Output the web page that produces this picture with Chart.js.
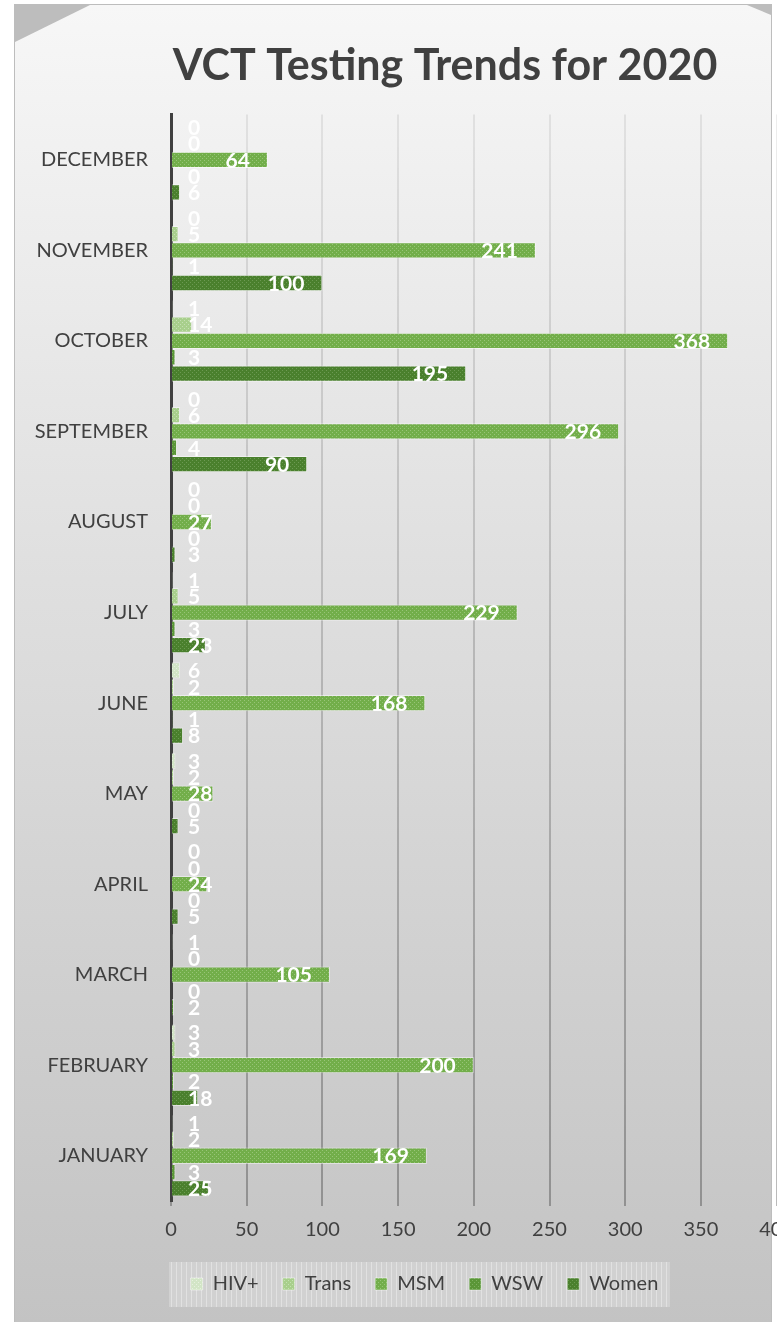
<!DOCTYPE html>
<html>
<head>
<meta charset="utf-8">
<script src="https://cdn.jsdelivr.net/npm/chart.js@4/dist/chart.umd.min.js"></script>
<style>
  html, body { margin: 0; padding: 0; background: #fff; width: 777px; height: 1322px; overflow: hidden; }
  .frame { position: absolute; left: 14px; top: 4px; width: 758px; height: 1320px; background: #bdbdbd; }
  .card { position: absolute; left: 1px; top: 1px; right: 1px; bottom: 0;
    background: linear-gradient(180deg, #f7f7f7 0%, #e6e6e6 30%, #d4d4d4 65%, #c3c3c3 100%);
    clip-path: polygon(75px 0, 732px 0, 756px 10px, 756px 100%, 0 100%, 0 37px); }
  .wrap { position: absolute; left: 0; top: 0; width: 806px; height: 1322px; }
</style>
</head>
<body>
<div class="frame"><div class="card"></div></div>
<div class="wrap"><canvas id="chart"></canvas></div>
<script>
const months = ['JANUARY', 'FEBRUARY', 'MARCH', 'APRIL', 'MAY', 'JUNE', 'JULY', 'AUGUST', 'SEPTEMBER', 'OCTOBER', 'NOVEMBER', 'DECEMBER'];
const hivPos = [1, 3, 1, 0, 3, 6, 1, 0, 0, 1, 0, 0];
const trans  = [2, 3, 0, 0, 2, 2, 5, 0, 6, 14, 5, 0];
const msm    = [169, 200, 105, 24, 28, 168, 229, 27, 296, 368, 241, 64];
const wsw    = [3, 2, 0, 0, 0, 1, 3, 0, 4, 3, 1, 0];
const women  = [25, 18, 2, 5, 5, 8, 23, 3, 90, 195, 100, 6];
const seriesNames = ['HIV+', 'Trans', 'MSM', 'WSW', 'Women'];
const xTicks = [0, 50, 100, 150, 200, 250, 300, 350, 400];

// small dotted texture like the excel fill
function dotted(base, dot) {
  const c = document.createElement('canvas');
  c.width = 4; c.height = 4;
  const g = c.getContext('2d');
  g.fillStyle = base; g.fillRect(0, 0, 4, 4);
  g.fillStyle = dot;
  g.fillRect(0, 0, 1, 1); g.fillRect(2, 2, 1, 1);
  return g.createPattern(c, 'repeat');
}

const fills = [
  dotted('#d2e5c6', '#e6f1df'),
  dotted('#a8cf8c', '#c6e0b4'),
  dotted('#72ae4a', '#97c577'),
  dotted('#5a9637', '#7eb060'),
  dotted('#4a802d', '#6c9a52')
];

let gridGrad = null;
function gridColor(context) {
  const chart = context.chart;
  const area = chart.chartArea;
  if (!area) return 'rgba(0,0,0,0.15)';
  if (!gridGrad) {
    gridGrad = chart.ctx.createLinearGradient(0, area.top, 0, area.bottom);
    gridGrad.addColorStop(0, 'rgba(0,0,0,0.07)');
    gridGrad.addColorStop(1, 'rgba(0,0,0,0.27)');
  }
  return gridGrad;
}

const placeBlocks = {
  id: 'placeBlocks',
  afterLayout(chart) {
    const t = chart.titleBlock;
    t.left = 100; t.right = 790;
    // legend items centred on x = 424, inside the grey box
    const lg = chart.legend;
    lg.left = 0; lg.right = 849; lg.top = 1250; lg.bottom = 1304;
  },
  beforeDraw(chart) {
    const ctx = chart.ctx;
    ctx.save();
    ctx.fillStyle = 'rgba(255,255,255,0.22)';
    ctx.fillRect(169, 1262, 501, 45);
    ctx.strokeStyle = 'rgba(255,255,255,0.35)';
    ctx.lineWidth = 1;
    ctx.beginPath();
    for (let x = 171; x < 670; x += 5) { ctx.moveTo(x + 0.5, 1262); ctx.lineTo(x + 0.5, 1307); }
    ctx.stroke();
    ctx.restore();
  }
};

const valueLabels = {
  id: 'valueLabels',
  afterDatasetsDraw(chart) {
    const {ctx, chartArea} = chart;
    ctx.save();
    ctx.font = 'bold 21px Lato';
    ctx.fillStyle = '#ffffff';
    ctx.textAlign = 'right';
    ctx.textBaseline = 'middle';
    chart.data.datasets.forEach((ds, i) => {
      chart.getDatasetMeta(i).data.forEach((bar, j) => {
        const txt = String(ds.data[j]);
        const w = ctx.measureText(txt).width;
        const x = Math.max(bar.x - 18, chartArea.left + 17 + w);
        ctx.fillText(txt, x, bar.y + 1);
      });
    });
    ctx.restore();
  }
};

const allSeries = [hivPos, trans, msm, wsw, women];

new Chart(document.getElementById('chart'), {
  type: 'bar',
  data: {
    labels: months,
    datasets: allSeries.map((vals, i) => ({
      label: seriesNames[i],
      data: vals,
      backgroundColor: fills[i],
      borderColor: 'rgba(255,255,255,0.45)',
      borderWidth: 1,
      categoryPercentage: 0.9,
      barPercentage: 1
    }))
  },
  options: {
    indexAxis: 'y',
    responsive: true,
    maintainAspectRatio: false,
    animation: false,
    layout: { padding: { left: 0, right: 18, top: 0, bottom: 0 } },
    scales: {
      x: {
        min: 0,
        max: 400,
        afterBuildTicks: axis => { axis.ticks = xTicks.map(v => ({ value: v })); },
        afterFit: axis => { axis.height = 67; },
        grid: { color: gridColor, lineWidth: 2, drawTicks: true, tickLength: 5 },
        border: { display: false },
        ticks: { color: '#404040', font: { family: 'Lato', size: 20 }, padding: 12 }
      },
      y: {
        reverse: true,
        afterFit: axis => { axis.width = 171; },
        grid: { display: false },
        border: { display: true, color: '#404040', width: 3 },
        ticks: { color: '#404040', font: { family: 'Lato', size: 20 }, padding: 15 }
      }
    },
    plugins: {
      title: {
        display: true,
        text: 'VCT Testing Trends for 2020',
        color: '#404040',
        font: { family: 'Lato', size: 43, weight: 'bold' },
        padding: { top: 40, bottom: 23 }
      },
      legend: {
        position: 'bottom',
        labels: {
          color: '#404040',
          font: { family: 'Lato', size: 20 },
          boxWidth: 12,
          boxHeight: 12,
          padding: 24
        }
      },
      tooltip: { enabled: false }
    }
  },
  plugins: [placeBlocks, valueLabels]
});
</script>
</body>
</html>
